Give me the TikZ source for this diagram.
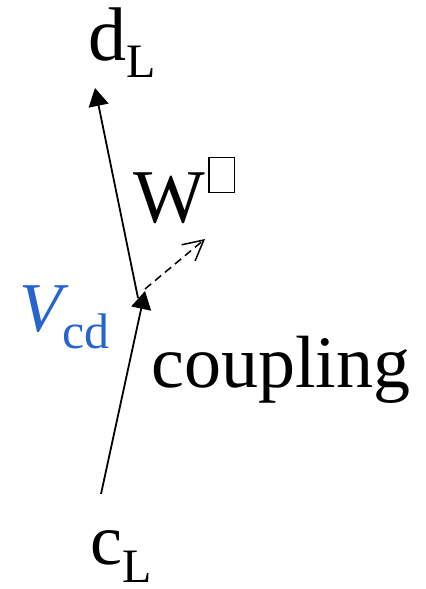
\documentclass[tikz,border=0pt]{standalone}
\usepackage{fontspec}
\setmainfont{Liberation Serif}
\usetikzlibrary{arrows.meta}
\definecolor{vblue}{RGB}{40,100,205}
\newcommand{\emptybox}{\raisebox{15pt}{\fboxsep=0pt\fboxrule=0.7pt\fbox{\rule{0pt}{17pt}\hspace{12pt}}}}

\begin{document}
\begin{tikzpicture}[x=0.5pt, y=-0.5pt,
	every node/.style={inner sep=0pt, anchor=base west},
	label/.style={font=\fontsize{38}{40}\selectfont},
	quark/.style={line width=0.9pt, -{Triangle[length=9pt,width=10pt]}},
	boson/.style={line width=0.75pt, dash pattern=on 4pt off 2.5pt, -{Straight Barb[length=10pt,width=10.5pt]}}]
	\useasboundingbox (0,0) rectangle (425,589);
	% end points of the lines
	\coordinate (cbot) at (101,494);
	\coordinate (vtip) at (145,291);
	\coordinate (vtx) at (138,298);
	\coordinate (dtop) at (95,88);
	\coordinate (vstart) at (145,289);
	\coordinate (wend) at (205,239);
	\draw[quark] (cbot) -- (vtip);
	\draw[quark] (vtx) -- (dtop);
	\draw[boson] (vstart) -- (wend);
	% labels
	\node[label] (dl) at (88,60) {d\raisebox{-9pt}{\fontsize{24}{26}\selectfont L}};
	\node[label] (w) at (133,222) {W\kern1.5pt\emptybox};
	\node[label, text=vblue] (vcd) at (19,331) {\fontsize{35}{37}\selectfont\itshape V\upshape\raisebox{-8.5pt}{\fontsize{25}{27}\selectfont cd}};
	\node[label, font=\fontsize{37}{39}\selectfont] (coupl) at (151,387) {coupling};
	\node[label] (cl) at (90,564) {\fontsize{36}{38}\selectfont c\raisebox{-9pt}{\fontsize{24}{26}\selectfont L}};
\end{tikzpicture}
\end{document}
